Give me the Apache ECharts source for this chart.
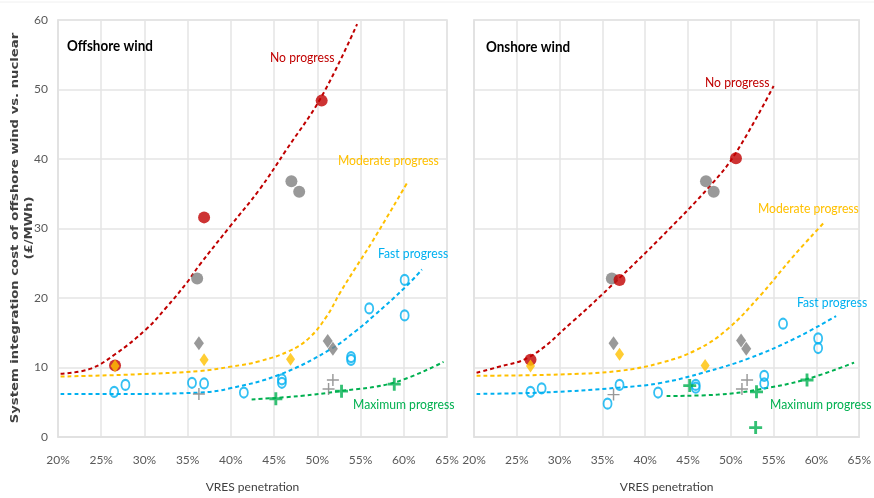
<!DOCTYPE html>
<html>
<head>
<meta charset="utf-8">
<script src="https://cdn.jsdelivr.net/npm/echarts@6/dist/echarts.min.js"></script>
<style>
html,body{margin:0;padding:0;background:#fff;}
#chart{width:874px;height:498px;}
</style>
</head>
<body>
<div id="chart"></div>
<script>
// ---- Data (x = VRES penetration %, y = £/MWh) ----
const xTicks = [20, 25, 30, 35, 40, 45, 50, 55, 60, 65];
const yTicks = [0, 10, 20, 30, 40, 50, 60];

// Offshore wind panel
const offNoProgress = [[26.6, 10.3], [36.9, 31.6], [50.5, 48.4]];
const offModerate = [[26.6, 10.2], [36.9, 11.1], [46.9, 11.2]];
const offFast = [[26.5, 6.5], [27.8, 7.5], [35.5, 7.8], [36.9, 7.7], [41.5, 6.4], [45.9, 8.3], [45.9, 7.8], [53.9, 11.5], [53.9, 11.1], [56.0, 18.5], [60.1, 22.6], [60.1, 17.5]];
const offMaximum = [[45.2, 5.5], [52.8, 6.6], [58.9, 7.6]];
const offGrayCircle = [[36.1, 22.8], [47.0, 36.8], [47.9, 35.3]];
const offGrayDiamond = [[36.3, 13.5], [51.2, 13.8], [51.8, 12.7]];
const offGrayPlus = [[36.3, 6.2], [51.3, 6.9], [51.8, 8.2]];
const offTrendNo = [[20.3, 9.1], [23.7, 9.8], [26.6, 11.9], [30.2, 15.5], [32.5, 18.6], [34.9, 22.2], [36.4, 24.8], [39.9, 30.3], [43.3, 35.6], [46.4, 41.3], [50.5, 49.0], [54.6, 59.4]];
const offTrendModerate = [[20.3, 8.7], [28.7, 9.0], [36.4, 9.5], [39.9, 10.1], [43.3, 10.9], [46.8, 12.4], [49.1, 14.3], [51.1, 17.4], [52.6, 20.7], [54.3, 24.1], [56.5, 28.4], [60.5, 36.8]];
const offTrendFast = [[20.3, 6.2], [28.0, 6.2], [36.4, 6.4], [39.9, 7.0], [45.7, 9.0], [51.5, 12.6], [54.5, 15.3], [56.5, 17.4], [60.3, 21.7], [62.1, 24.1]];
const offTrendMax = [[42.4, 5.4], [48.0, 5.9], [52.6, 6.6], [58.8, 7.8], [64.6, 10.8]];

// Onshore wind panel
const onNoProgress = [[26.6, 11.1], [37.0, 22.6], [50.6, 40.1]];
const onModerate = [[26.6, 10.2], [37.0, 11.9], [47.0, 10.3]];
const onFast = [[26.6, 6.5], [27.9, 7.0], [35.6, 4.8], [37.0, 7.5], [41.5, 6.4], [45.9, 7.5], [45.9, 7.1], [53.9, 8.8], [53.9, 7.7], [56.1, 16.3], [60.2, 14.2], [60.2, 12.8]];
const onMaximum = [[45.2, 7.4], [52.9, 1.35], [53.0, 6.5], [58.9, 8.2]];
const onGrayCircle = [[36.1, 22.8], [47.1, 36.8], [48.0, 35.3]];
const onGrayDiamond = [[36.3, 13.5], [51.2, 13.9], [51.8, 12.7]];
const onGrayPlus = [[36.3, 6.1], [51.3, 6.9], [51.9, 8.2]];
const onTrendNo = [[20.3, 9.25], [22.6, 10.0], [26.6, 11.6], [31.5, 16.6], [36.5, 22.3], [41.9, 28.8], [47.7, 36.3], [50.6, 40.9], [55.0, 50.5]];
const onTrendModerate = [[20.3, 8.8], [30.0, 9.0], [36.9, 9.5], [41.9, 10.7], [46.1, 12.6], [49.6, 15.5], [53.4, 20.3], [57.3, 26.0], [61.0, 31.0]];
const onTrendFast = [[20.3, 6.2], [28.0, 6.4], [36.9, 7.1], [41.9, 7.8], [46.9, 9.3], [52.3, 11.4], [57.7, 14.3], [62.3, 17.4]];
const onTrendMax = [[42.5, 5.9], [48.5, 6.1], [53.1, 6.8], [58.8, 8.3], [64.4, 10.7]];

// ---- Styles ----
const RED = '#c00000', ORANGE = '#ffc000', BLUE = '#00b0f0', GREEN = '#00b050', GRAY = '#7f7f7f';
const FONT = 'Lato, "Liberation Sans", sans-serif';
const PLUS_THIN = 'path://M4.4,0h1.2v4.4h4.4v1.2h-4.4v4.4h-1.2v-4.4h-4.4v-1.2h4.4z';
const PLUS_THICK = 'path://M3.9,0h2.2v3.9h3.9v2.2h-3.9v3.9h-2.2v-3.9h-3.9v-2.2h3.9z';

function trend(data, color, idx) {
  return {type: 'line', xAxisIndex: idx, yAxisIndex: idx, data: data, smooth: 0.4,
    showSymbol: false, symbol: 'none', silent: true, z: 1,
    lineStyle: {color: color, width: 2, type: [4, 3]}};
}
function scat(data, idx, symbol, size, style, z) {
  return {type: 'scatter', xAxisIndex: idx, yAxisIndex: idx, data: data, symbol: symbol,
    symbolSize: size, itemStyle: style, z: z || 3, silent: true};
}
function panelSeries(idx, d) {
  return [
    trend(d.tNo, RED, idx), trend(d.tMod, ORANGE, idx), trend(d.tFast, BLUE, idx), trend(d.tMax, GREEN, idx),
    scat(d.gc, idx, 'circle', 12, {color: GRAY}),
    scat(d.gd, idx, 'diamond', [10, 14], {color: GRAY}),
    scat(d.gp, idx, PLUS_THIN, 12, {color: GRAY}),
    scat(d.no, idx, 'circle', 12, {color: RED}, 4),
    scat(d.mod, idx, 'diamond', [9, 13], {color: ORANGE}, 5),
    scat(d.fast, idx, 'circle', [8, 10], {color: 'rgba(0,0,0,0)', borderColor: BLUE, borderWidth: 2}, 5),
    scat(d.max, idx, PLUS_THICK, 13, {color: GREEN}, 5)
  ];
}

const gridLine = {show: true, lineStyle: {color: '#e4e4e4', width: 1.5}};
function xAxis(idx) {
  return {type: 'value', gridIndex: idx, min: xTicks[0], max: xTicks[xTicks.length - 1], interval: 5,
    axisLabel: {formatter: '{value}%', color: '#595959', fontSize: 12, fontFamily: FONT, margin: 17},
    axisTick: {show: false}, axisLine: {show: true, lineStyle: {color: '#e0e0e0', width: 1.5}},
    splitLine: gridLine,
    name: 'VRES penetration', nameLocation: 'middle', nameGap: 44,
    nameTextStyle: {color: '#404040', fontSize: 12, fontFamily: FONT}};
}
function yAxis(idx, showLabels) {
  return {type: 'value', gridIndex: idx, min: yTicks[0], max: yTicks[yTicks.length - 1], interval: 10,
    axisLabel: {show: showLabels, color: '#595959', fontSize: 12, fontFamily: FONT, margin: 10},
    axisTick: {show: false}, axisLine: {show: true, lineStyle: {color: '#e0e0e0', width: 1.5}},
    splitLine: gridLine};
}
function label(text, x, y, color, font, sx) {
  return {type: 'text', x: x, y: y, z: 10, scaleX: sx || 0.87,
    style: {text: text, fill: color, font: font || ('14px ' + FONT), verticalAlign: 'middle', align: 'left'}};
}

const chart = echarts.init(document.getElementById('chart'), null, {renderer: 'canvas'});
chart.setOption({
  animation: false,
  backgroundColor: '#ffffff',
  grid: [
    {left: 58, right: 427, top: 20, bottom: 60, show: true, borderColor: '#e0e0e0', borderWidth: 1.5},
    {left: 474, right: 11, top: 20, bottom: 60, show: true, borderColor: '#e0e0e0', borderWidth: 1.5}
  ],
  xAxis: [xAxis(0), xAxis(1)],
  yAxis: [yAxis(0, true), yAxis(1, false)],
  series: [].concat(
    panelSeries(0, {tNo: offTrendNo, tMod: offTrendModerate, tFast: offTrendFast, tMax: offTrendMax,
      gc: offGrayCircle, gd: offGrayDiamond, gp: offGrayPlus, no: offNoProgress, mod: offModerate, fast: offFast, max: offMaximum}),
    panelSeries(1, {tNo: onTrendNo, tMod: onTrendModerate, tFast: onTrendFast, tMax: onTrendMax,
      gc: onGrayCircle, gd: onGrayDiamond, gp: onGrayPlus, no: onNoProgress, mod: onModerate, fast: onFast, max: onMaximum})
  ),
  graphic: [
    {type: 'line', shape: {x1: 0, y1: 2, x2: 874, y2: 2}, style: {stroke: '#f0f0f0', lineWidth: 1}},
    label('Offshore wind', 67, 46, '#000000', 'bold 16px ' + FONT, 0.84),
    label('No progress', 270, 57, RED),
    label('Moderate progress', 338, 160, ORANGE),
    label('Fast progress', 378, 253, BLUE),
    label('Maximum progress', 353, 404, GREEN),
    label('Onshore wind', 486, 47, '#000000', 'bold 16px ' + FONT, 0.84),
    label('No progress', 705, 82, RED),
    label('Moderate progress', 758, 208, ORANGE),
    label('Fast progress', 797, 302, BLUE),
    label('Maximum progress', 770, 404, GREEN),
    {type: 'text', x: 15, y: 228, rotation: Math.PI / 2, scaleX: 1.2, z: 10,
      style: {text: 'System integration cost of offshore wind vs. nuclear', fill: '#404040',
        font: 'bold 11px "DejaVu Sans", sans-serif', align: 'center', verticalAlign: 'middle'}},
    {type: 'text', x: 29, y: 228, rotation: Math.PI / 2, scaleX: 1.2, z: 10,
      style: {text: '(£/MWh)', fill: '#404040', font: 'bold 11px "DejaVu Sans", sans-serif', align: 'center', verticalAlign: 'middle'}}
  ]
});
</script>
</body>
</html>
